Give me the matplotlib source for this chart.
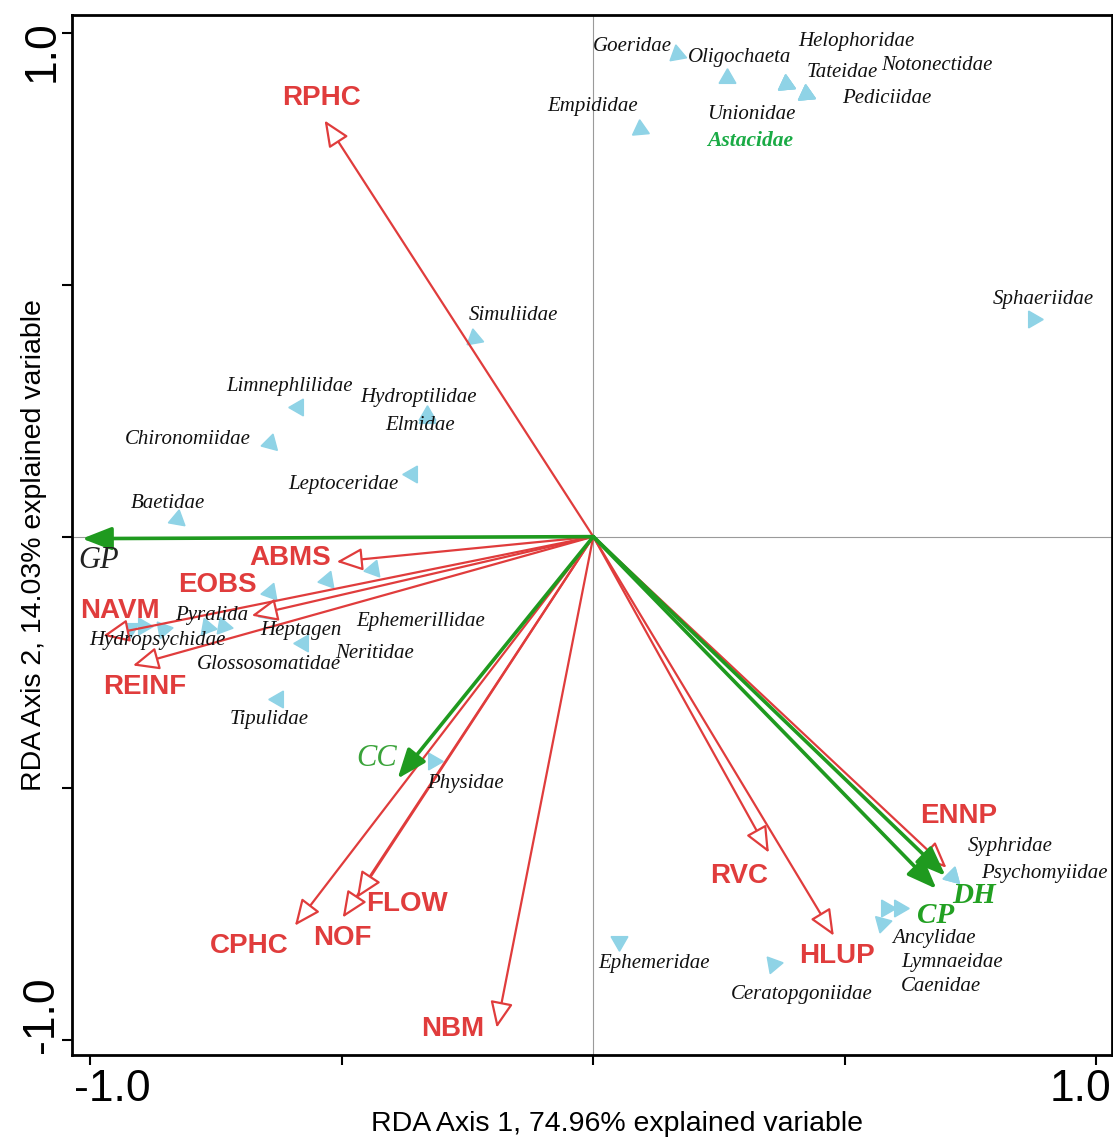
import numpy as np
import matplotlib
matplotlib.use("Agg")
import matplotlib.pyplot as plt
from matplotlib.transforms import ScaledTranslation

# ---- species scores (RDA axis 1, axis 2) ----
species = ["Goeridae", "Oligochaeta", "Helophoridae", "Tateidae", "Notonectidae",
           "Pediciidae", "Unionidae", "Astacidae", "Empididae", "Sphaeriidae",
           "Simuliidae", "Limnephlilidae", "Hydroptilidae", "Elmidae", "Chironomiidae",
           "Leptoceridae", "Baetidae", "Ephemerillidae", "Neritidae", "Heptagen",
           "Pyralida", "Glossosomatidae", "Tipulidae", "Hydropsychidae", "",
           "", "", "", "Physidae", "Syphridae",
           "Psychomyiidae", "Ancylidae", "Lymnaeidae", "Caenidae", "Ephemeridae",
           "Ceratopgoniidae"]
sp_x = [0.167, 0.266, 0.383, 0.423, 0.423,
        0.423, 0.383, 0.383, 0.093, 0.873,
        -0.238, -0.587, -0.331, -0.331, -0.643,
        -0.361, -0.827, -0.438, -0.530, -0.643,
        -0.649, -0.577, -0.627, -0.895, -0.736,
        -0.768, -0.855, -0.921, -0.319, 0.712,
        0.712, 0.581, 0.607, 0.573, 0.052,
        0.357]
sp_y = [0.960, 0.911, 0.899, 0.879, 0.879,
        0.879, 0.899, 0.899, 0.811, 0.433,
        0.394, 0.258, 0.241, 0.235, 0.187,
        0.125, 0.036, -0.064, -0.087, -0.111,
        -0.151, -0.211, -0.322, -0.177, -0.177,
        -0.179, -0.183, -0.181, -0.445, -0.674,
        -0.674, -0.738, -0.738, -0.767, -0.803,
        -0.849]

# ---- environmental variables ----
env_names = ["RPHC", "ABMS", "EOBS", "NAVM", "REINF", "CPHC", "NOF", "FLOW",
             "NBM", "RVC", "HLUP", "ENNP"]
env_x = [-0.534, -0.510, -0.679, -0.974, -0.915, -0.593, -0.498, -0.470,
         -0.192, 0.349, 0.478, 0.702]
env_y = [0.827, -0.050, -0.157, -0.197, -0.256, -0.773, -0.757, -0.718,
         -0.976, -0.628, -0.793, -0.658]

# ---- spatial / covariable vectors ----
cov_names = ["GP", "CC", "DH", "CP"]
cov_x = [-1.016, -0.389, 0.700, 0.682]
cov_y = [-0.004, -0.481, -0.674, -0.700]

# label placement
sp_lab = [(0.077, 0.974), (0.290, 0.952), (0.522, 0.984), (0.494, 0.922), (0.683, 0.936),
          (0.583, 0.871), (0.313, 0.839), (0.312, 0.787), (-0.002, 0.855), (0.895, 0.471),
          (-0.159, 0.439), (-0.603, 0.298), (-0.347, 0.276), (-0.345, 0.221), (-0.806, 0.193),
          (-0.496, 0.103), (-0.845, 0.066), (-0.343, -0.169), (-0.435, -0.233), (-0.581, -0.187),
          (-0.758, -0.157), (-0.645, -0.254), (-0.645, -0.364), (-0.867, -0.207), (0, 0),
          (0, 0), (0, 0), (0, 0), (-0.254, -0.491), (0.829, -0.616),
          (0.897, -0.670), (0.677, -0.799), (0.714, -0.847), (0.690, -0.893), (0.121, -0.849),
          (0.415, -0.909)]
# direction the triangle points (deg)
sp_dir = [100, 90, 95, 95, 95, 95, 95, 95, 95, 240,
          100, 300, 330, 330, 315, 300, 200, 70, 70, 70,
          80, 60, 60, 120, 110, 110, 130, 150, 0, 315,
          315, 120, 120, 135, 270, 250]
env_lab = [(-0.540, 0.871), (-0.603, -0.042), (-0.746, -0.097), (-0.940, -0.147),
           (-0.891, -0.298), (-0.683, -0.813), (-0.498, -0.797), (-0.371, -0.730),
           (-0.280, -0.978), (0.290, -0.674), (0.484, -0.833), (0.726, -0.555)]
cov_lab = [(-0.983, -0.048), (-0.431, -0.441), (0.756, -0.714), (0.681, -0.753)]

RED = "#e03c3c"
GREEN = "#1f9a1f"
BLUE = "#8fd3e6"

fig = plt.figure(figsize=(11.13, 11.40), dpi=100)
ax = fig.add_axes([0.0647, 0.0746, 0.934, 0.912])
ax.set_xlim(-1.036, 1.03)
ax.set_ylim(-1.03, 1.036)

ax.axhline(0, color="#9a9a9a", lw=0.8, zorder=0)
ax.axvline(0, color="#9a9a9a", lw=0.8, zorder=0)

# species triangles
for x, y, d in zip(sp_x, sp_y, sp_dir):
    ax.plot(x, y, marker=(3, 0, d - 90), ms=14, color=BLUE, mec=BLUE, ls="none", zorder=2)
for name, (lx, ly) in zip(species, sp_lab):
    if not name:
        continue
    if name == "Astacidae":
        ax.text(lx, ly, name, color="#1aab45", fontsize=15.5, fontstyle="italic",
                fontweight="bold", family="Liberation Serif", ha="center", va="center", zorder=4)
    else:
        ax.text(lx, ly, name, color="#111111", fontsize=15, fontstyle="italic",
                family="Liberation Serif", ha="center", va="center", zorder=4)

# environmental arrows
for x, y in zip(env_x, env_y):
    ax.annotate("", xy=(x, y), xytext=(0, 0),
                arrowprops=dict(arrowstyle="-|>,head_length=0.8,head_width=0.35",
                                fc="white", ec=RED, lw=1.6, shrinkA=0, shrinkB=0,
                                mutation_scale=20), zorder=3)
for name, (lx, ly) in zip(env_names, env_lab):
    ax.text(lx, ly, name, color=RED, fontsize=20, fontweight="bold",
            family="Liberation Sans", ha="center", va="center", zorder=4)

# covariable arrows
for x, y in zip(cov_x, cov_y):
    ax.annotate("", xy=(x, y), xytext=(0, 0),
                arrowprops=dict(arrowstyle="-|>,head_length=0.9,head_width=0.35",
                                fc=GREEN, ec=GREEN, lw=2.6, shrinkA=0, shrinkB=0,
                                mutation_scale=20), zorder=3)
for name, (lx, ly) in zip(cov_names, cov_lab):
    if name == "GP":
        ax.text(lx, ly, name, color="#222222", fontsize=22, fontstyle="italic",
                family="Liberation Serif", ha="center", va="center", zorder=4)
    elif name == "CC":
        ax.text(lx, ly, name, color="#3aa33a", fontsize=22, fontstyle="italic",
                family="Liberation Serif", ha="center", va="center", zorder=4)
    else:
        ax.text(lx, ly, name, color="#22a022", fontsize=21, fontstyle="italic",
                fontweight="bold", family="Liberation Serif", ha="center", va="center", zorder=4)

# axes
ticks = [-1.0, -0.5, 0.0, 0.5, 1.0]
ax.set_xticks(ticks)
ax.set_xticklabels(["-1.0", "", "", "", "1.0"])
ax.set_yticks(ticks)
ax.set_yticklabels(["-1.0", "", "", "", "1.0"], rotation=90, va="center")
ax.tick_params(direction="out", length=7, width=1.5, labelsize=32)
ax.tick_params(axis="x", pad=3)
ax.tick_params(axis="y", pad=0)
for lab in ax.get_xticklabels() + ax.get_yticklabels():
    lab.set_family("Liberation Sans")

# end labels sit a little inside their ticks
xl = ax.get_xticklabels()
xl[0].set_transform(xl[0].get_transform() + ScaledTranslation(0.22, 0, fig.dpi_scale_trans))
xl[-1].set_transform(xl[-1].get_transform() + ScaledTranslation(-0.16, 0, fig.dpi_scale_trans))
yl = ax.get_yticklabels()
yl[0].set_transform(yl[0].get_transform() + ScaledTranslation(0, 0.25, fig.dpi_scale_trans))
yl[-1].set_transform(yl[-1].get_transform() + ScaledTranslation(0, -0.18, fig.dpi_scale_trans))

for s in ax.spines.values():
    s.set_linewidth(2)

ax.set_xlabel("RDA Axis 1, 74.96% explained variable", fontsize=20.5,
              family="Liberation Sans")
ax.set_ylabel("RDA Axis 2, 14.03% explained variable", fontsize=20.5,
              family="Liberation Sans")
ax.xaxis.set_label_coords(0.524, -0.054)
ax.yaxis.set_label_coords(-0.024, 0.49)

fig.savefig("out.png", dpi=100)
